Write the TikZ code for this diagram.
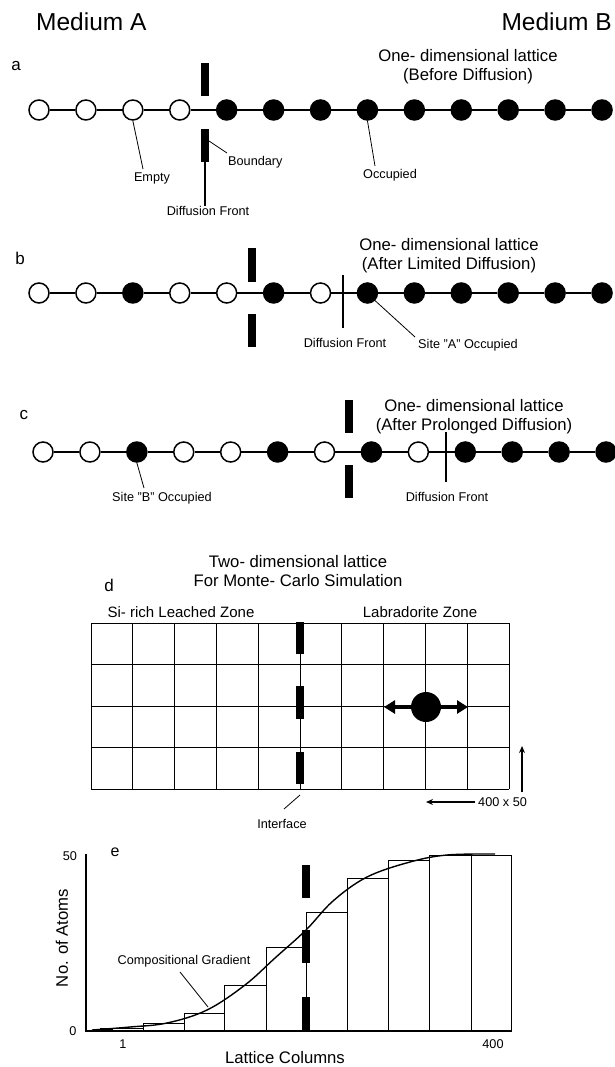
\documentclass[tikz,border=0pt]{standalone}
\usepackage{fontspec}
\setmainfont{Liberation Sans}
\usetikzlibrary{arrows.meta}
\tikzset{
  site/.style={circle,draw=black,line width=1.5pt,minimum size=20pt,inner sep=0pt},
  empty/.style={site,fill=white},
  occ/.style={site,fill=black},
  bar/.style={rectangle,fill=black,draw=none,minimum width=8pt,inner sep=0pt},
  lbl/.style={inner sep=0pt,font=\fontsize{12.7}{14}\selectfont},
  ttl/.style={inner sep=0pt,font=\fontsize{16.7}{19}\selectfont,align=center},
  plab/.style={inner sep=0pt,font=\fontsize{17}{19}\selectfont},
  bond/.style={line width=1.8pt},
  leader/.style={line width=0.8pt},
  grid/.style={line width=0.9pt},
  hist/.style={line width=0.9pt},
  axis/.style={line width=1.8pt},
}
\begin{document}
\begin{tikzpicture}[x=1pt,y=-1pt]
\useasboundingbox (0,0) rectangle (615,1067);
% Medium headers
\node[inner sep=0pt,font=\fontsize{24.5}{26}\selectfont,anchor=west] (mA) at (36,22) {Medium A};
\node[inner sep=0pt,font=\fontsize{24.5}{26}\selectfont,anchor=east] (mB) at (612,22) {Medium B};

% ---------- panel a ----------
\node[plab] (la) at (16,66) {a};
\node[ttl] (ta) at (468,67) {One- dimensional lattice\\(Before Diffusion)};
\foreach \i in {0,...,12}{
  \pgfmathtruncatemacro{\t}{\i<4 ? 0 : 1}
  \ifnum\t=0 \node[empty] (a\i) at ({39+46.92*\i},110) {};
  \else \node[occ] (a\i) at ({39+46.92*\i},110) {}; \fi
}
\foreach \i [evaluate=\i as \j using int(\i+1)] in {0,...,11}{ \draw[bond] (a\i) -- (a\j); }
\node[bar,minimum height=33pt] (aBu) at (205,79.5) {};
\node[bar,minimum height=33pt] (aBl) at (205,145.5) {};
\node[lbl] (aDF) at (208,211) {Diffusion Front};
\draw[line width=2pt] (aBl.south) -- (aBl.south |- aDF.north) ++(0,-3);
\node[lbl,anchor=west] (aBd) at (228,162) {Boundary};
\draw[leader] (209,141) -- (227,153);
\node[lbl] (aEm) at (152,178) {Empty};
\draw[leader] (a2.south) -- (143,169);
\node[lbl] (aOc) at (390,175) {Occupied};
\draw[leader] (a7.south) -- (375,166);

% ---------- panel b ----------
\node[plab] (lb) at (20,258) {b};
\node[ttl] (tb) at (449,256) {One- dimensional lattice\\(After Limited Diffusion)};
\foreach \i/\s in {0/empty,1/empty,2/occ,3/empty,4/empty,5/occ,6/empty,7/occ,8/occ,9/occ,10/occ,11/occ,12/occ}{
  \node[\s] (b\i) at ({39+46.92*\i},293) {};
}
\foreach \i [evaluate=\i as \j using int(\i+1)] in {0,...,11}{ \draw[bond] (b\i) -- (b\j); }
\node[bar,minimum height=34pt] (bBu) at (252,265) {};
\node[bar,minimum height=33pt] (bBl) at (252,330.5) {};
\coordinate (bFt) at (343,275);
\coordinate (bFb) at (343,328);
\draw[line width=1.6pt] (bFt) -- (bFb);
\node[lbl] (bDF) at (345,343) {Diffusion Front};
\node[lbl] (bSA) at (468,345) {Site "A" Occupied};
\draw[leader] (b7.south east) -- (415,337);

% ---------- panel c ----------
\node[plab] (lc) at (24,415) {c};
\node[ttl] (tc) at (474,417) {One- dimensional lattice\\(After Prolonged Diffusion)};
\foreach \i/\s in {0/empty,1/empty,2/occ,3/empty,4/empty,5/occ,6/empty,7/occ,8/empty,9/occ,10/occ,11/occ,12/occ}{
  \node[\s] (c\i) at ({43+46.92*\i},452) {};
}
\foreach \i [evaluate=\i as \j using int(\i+1)] in {0,...,11}{ \draw[bond] (c\i) -- (c\j); }
\node[bar,minimum height=33pt] (cBu) at (349,416.5) {};
\node[bar,minimum height=33pt] (cBl) at (349,481.5) {};
\coordinate (cFt) at (446,432);
\coordinate (cFb) at (446,482);
\draw[line width=1.6pt] (cFt) -- (cFb);
\node[lbl] (cDF) at (447,497) {Diffusion Front};
\node[lbl] (cSB) at (162,498) {Site "B" Occupied};
\draw[leader] (c2.south) -- (144,488);

% ---------- panel d ----------
\node[ttl] (td) at (298,571) {Two- dimensional lattice\\For Monte- Carlo Simulation};
\node[plab] (ld) at (109,585) {d};
\node[inner sep=0pt,font=\fontsize{15}{17}\selectfont] (zl) at (181,612) {Si- rich Leached Zone};
\node[inner sep=0pt,font=\fontsize{15}{17}\selectfont] (zr) at (420,612) {Labradorite Zone};
\foreach \k in {0,...,10}{ \draw[grid] ({91+41.8*\k},623) -- ({91+41.8*\k},789); }
\foreach \k in {0,...,4}{ \draw[grid] (91,{623+41.5*\k}) -- (509,{623+41.5*\k}); }
\node[bar,minimum height=32pt,minimum width=8.5pt] (dB1) at (300,638) {};
\node[bar,minimum height=33pt,minimum width=8.5pt] (dB2) at (300,702.5) {};
\node[bar,minimum height=32pt,minimum width=8.5pt] (dB3) at (300,768) {};
\node[circle,fill=black,minimum size=30pt,inner sep=0pt] (dot) at (426,707) {};
\coordinate (dL) at (384,707);
\coordinate (dR) at (468,707);
\draw[line width=3.5pt,-{Triangle[length=11pt,width=13pt]}] (dot.west) -- (dL);
\draw[line width=3.5pt,-{Triangle[length=11pt,width=13pt]}] (dot.east) -- (dR);
\node[lbl] (dIf) at (282,824) {Interface};
\draw[leader] (300,795) -- (284,809);
\coordinate (sUb) at (522,792);
\coordinate (sUt) at (522,746);
\draw[line width=1.6pt,-{Stealth[length=7pt,width=6pt]}] (sUb) -- (sUt);
\node[lbl,anchor=west] (scl) at (478,802) {400 x 50};
\coordinate (sLt) at (426,802);
\draw[line width=1.6pt,-{Stealth[length=7pt,width=6pt]}] (scl.west) ++(-3,0) -- (sLt);

% ---------- panel e ----------
\node[inner sep=0pt,font=\fontsize{16}{18}\selectfont] (le) at (115,852) {e};
% bars
\foreach \xa/\xb/\yt in {102/143/1028, 143/184/1023, 184/224/1013, 224/266/985, 266/306/947, 306/347/912, 347/388/878, 388/429/860, 429/471/855, 471/511/855}{
  \draw[hist] (\xa,1030) rectangle (\xb,\yt);
}
\draw[line width=2pt] (100,1029) -- (113,1029);
\node[bar,minimum height=33pt] (eB1) at (306,881.5) {};
\node[bar,minimum height=33pt] (eB2) at (306,946.5) {};
\node[bar,minimum height=33pt] (eB3) at (306,1013.5) {};
\draw[line width=1.4pt] plot[smooth,tension=0.6] coordinates {(92,1030) (130,1027) (167,1023) (207,1010) (245,985) (275,958) (306,930) (333,901) (367,877) (410,862) (447,855) (495,854)};
\draw[axis] (86,854) -- (86,1031) -- (512,1031);
\node[lbl] (e50) at (70,856) {50};
\node[lbl] (e0) at (73,1031) {0};
\node[lbl] (e1) at (123,1044) {1};
\node[lbl] (e400) at (493,1044) {400};
\node[inner sep=0pt,font=\fontsize{16.7}{18}\selectfont] (eX) at (285,1058) {Lattice Columns};
\node[inner sep=0pt,font=\fontsize{16.7}{18}\selectfont,rotate=90] (eY) at (62,938) {No. of Atoms};
\node[lbl] (eCG) at (184,961) {Compositional Gradient};
\draw[leader] (180,972) -- (208,1007);
\end{tikzpicture}
\end{document}
